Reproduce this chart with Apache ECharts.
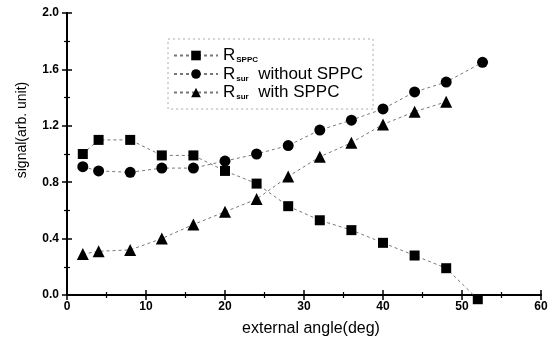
<!DOCTYPE html>
<html><head><meta charset="utf-8">
<script src="https://cdn.jsdelivr.net/npm/echarts@6/dist/echarts.min.js"></script>
<style>html,body{margin:0;padding:0;background:#fff}#c{width:553px;height:342px}</style>
</head><body><div id="c"></div>
<script>
const xTicks = [0,10,20,30,40,50,60];
const yTicks = [0.0,0.4,0.8,1.2,1.6,2.0];
const seriesNames = ['R_SPPC','R_sur without SPPC','R_sur with SPPC'];
const sppcX = [2,4,8,12,16,20,24,28,32,36,40,44,48,52];
const sppcY = [1.00,1.10,1.10,0.99,0.99,0.88,0.79,0.63,0.53,0.46,0.37,0.28,0.19,-0.03];
const surX = [2,4,8,12,16,20,24,28,32,36,40,44,48,52.6];
const surY = [0.91,0.88,0.87,0.90,0.90,0.95,1.00,1.06,1.17,1.24,1.32,1.44,1.51,1.65];
const withX = [2,4,8,12,16,20,24,28,32,36,40,44,48];
const withY = [0.29,0.31,0.32,0.40,0.50,0.59,0.68,0.84,0.98,1.08,1.21,1.30,1.37];

const pair = (xs, ys) => xs.map((x, i) => [x, ys[i]]);
const font = 'Liberation Sans, Arial, sans-serif';
const chart = echarts.init(document.getElementById('c'));
const baseAxis = {
  axisLine: {show: true, lineStyle: {color: '#000', width: 2}},
  axisTick: {show: true, inside: true, length: 5, lineStyle: {color: '#000', width: 1.5}},
  minorTick: {show: true, splitNumber: 2, length: 3, lineStyle: {color: '#000', width: 1.2}},
  splitLine: {show: false}
};
const lineStyle = {color: '#777', width: 1, type: [3, 3]};
chart.setOption({
  animation: false,
  grid: {left: 67, right: 12, top: 13, bottom: 46},
  legend: {
    orient: 'vertical', left: 168, top: 39, itemWidth: 44, itemHeight: 12, itemGap: 1.5,
    borderColor: '#aaa', borderWidth: 1, borderType: [2, 3], padding: [8, 10, 8, 5],
    formatter: function (n) {
      if (n === seriesNames[0]) return '{r|R}{s|SPPC}';
      if (n === seriesNames[1]) return '{r|R}{s|sur}{r|  without SPPC}';
      return '{r|R}{s|sur}{r|  with SPPC}';
    },
    textStyle: {
      rich: {
        r: {fontFamily: font, fontSize: 17, color: '#000', lineHeight: 17},
        s: {fontFamily: font, fontSize: 8, fontWeight: 'bold', color: '#000', lineHeight: 8,
            verticalAlign: 'bottom', padding: [0, 0, 0, 1]}
      }
    },
    data: seriesNames
  },
  xAxis: [
    Object.assign({}, baseAxis, {
      type: 'value', min: 0, max: 60, interval: 10,
      name: 'external angle(deg)', nameLocation: 'middle', nameGap: 26,
      nameTextStyle: {fontFamily: font, fontSize: 16, color: '#000', letterSpacing: 1.8, padding: [0, 0, 0, 14]},
      axisLabel: {fontFamily: font, fontSize: 12, fontWeight: 'bold', color: '#000', margin: 6,
        formatter: v => String(v)}
    }),
    Object.assign({}, baseAxis, {
      type: 'value', min: 0, max: 60, interval: 10, position: 'top',
      axisLabel: {show: false}
    })
  ],
  yAxis: [
    Object.assign({}, baseAxis, {
      type: 'value', min: 0, max: 2, interval: 0.4,
      name: 'signal(arb. unit)', nameLocation: 'middle', nameGap: 38, nameRotate: 90,
      nameTextStyle: {fontFamily: font, fontSize: 14, color: '#000', padding: [0, 0, 0, 48]},
      axisLabel: {fontFamily: font, fontSize: 12, fontWeight: 'bold', color: '#000', margin: 8,
        formatter: v => v.toFixed(1)}
    }),
    Object.assign({}, baseAxis, {
      type: 'value', min: 0, max: 2, interval: 0.4, position: 'right',
      axisLabel: {show: false}
    })
  ],
  series: [
    {name: seriesNames[0], type: 'line', data: pair(sppcX, sppcY), symbol: 'rect', symbolSize: 10,
      itemStyle: {color: '#000'}, lineStyle: lineStyle, clip: false},
    {name: seriesNames[1], type: 'line', data: pair(surX, surY), symbol: 'circle', symbolSize: 11,
      itemStyle: {color: '#000'}, lineStyle: lineStyle, clip: false},
    {name: seriesNames[2], type: 'line', data: pair(withX, withY), symbol: 'triangle', symbolSize: 12,
      itemStyle: {color: '#000'}, lineStyle: lineStyle, clip: false}
  ]
});
</script></body></html>
